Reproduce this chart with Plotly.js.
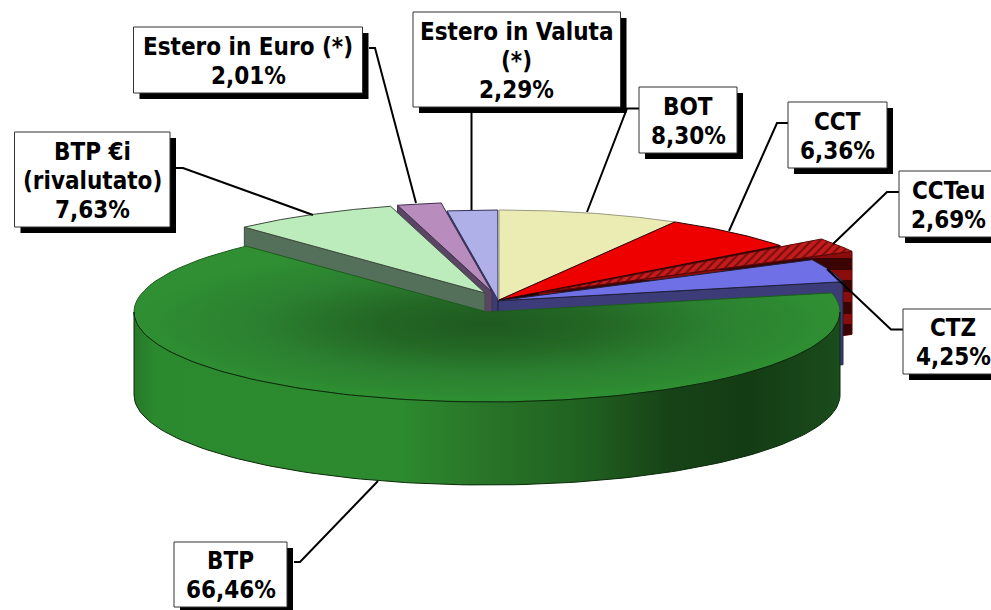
<!DOCTYPE html>
<html>
<head>
<meta charset="utf-8">
<script src="https://cdn.plot.ly/plotly-3.0.1.min.js"></script>
<style>html,body{margin:0;padding:0;background:#fff;overflow:hidden}#chart{width:991px;height:610px}</style>
</head>
<body>
<div id="chart"></div>
<script>
// ---- data ----
const categories = ["BOT","CCT","CCTeu","CTZ","BTP","BTP €i (rivalutato)","Estero in Euro (*)","Estero in Valuta (*)"];
const values = [8.30,6.36,2.69,4.25,66.46,7.63,2.01,2.29];
const valueLabels = ["8,30%","6,36%","2,69%","4,25%","66,46%","7,63%","2,01%","2,29%"];
const nameLines = [["BOT"],["CCT"],["CCTeu"],["CTZ"],["BTP"],["BTP €i","(rivalutato)"],["Estero in Euro (*)"],["Estero in Valuta","(*)"]];

// ---- styles ----
const topColors  = ["#ebebb4","#ee0000","#b81818","#7070e6","#2e8b2e","#bcecbc","#b88cbc","#b0b0e8"];
const wallColors = [null,"#200404","#5a0808","#3c3c78",null,"#55705a","#5a4664","#3c3c70"];
const edgeColors = ["#9a9a80","#300000","#5a0808","#20203a","#1b5c1c","#404a40","#40304a","#30305a"];

// ---- geometry of the projected pie ----
const rx = 353, ry = 90, depth = 83;
const apexX = [499,499,539,498,487,485,492,498];
const apexY = [300,300,293,300.8,312,293,292,300];
const wallAt = [null,"end","end","end",null,"start","start","start"];
const boxes = [[639,87,737,153],[788,102,887,168],[899,171,998,237],[903,309,1003,374],[174,542,287,607],[14.5,132,170,227],[133.5,27,362.5,93],[413,12,620.5,107]];
const leadersX = [[639,627,587],[788,777,729],[899,887,833],[903,891,827],[294,300,378],[175,183,313],[369,375,416],[471.5,471.5]];
const leadersY = [[108.5,108.5,212],[123,123,231],[192,192,244],[329.5,329.5,269],[562,562,481],[168,168,215],[48,48,203],[113,210]];
const paintOrder = [7,6,5,0,1,2,3,4];

const rad = d => d*Math.PI/180;
const cum = []; values.reduce((s,v,i)=>(cum[i]=s,s+v),0);
const startDeg = i => cum[i]*3.6, endDeg = i => (cum[i]+values[i])*3.6;
const px = (i,d) => apexX[i]+rx*Math.sin(rad(d));
const py = (i,d,off=0) => apexY[i]-ry*Math.cos(rad(d))+off;

function wedge(i){
  const X=[apexX[i]],Y=[apexY[i]];
  for(let k=0;k<=80;k++){const d=startDeg(i)+(endDeg(i)-startDeg(i))*k/80;X.push(px(i,d));Y.push(py(i,d));}
  X.push(apexX[i]);Y.push(apexY[i]);return [X,Y];
}
function cutWall(i){
  const d = wallAt[i]==="end"?endDeg(i):startDeg(i);
  return [[apexX[i],px(i,d),px(i,d),apexX[i],apexX[i]],[apexY[i],py(i,d),py(i,d,depth),apexY[i]+depth,apexY[i]]];
}
function rim(i){
  const X=[],Y=[];
  for(let k=0;k<=120;k++){const d=90+180*k/120;X.push(px(i,d));Y.push(py(i,d));}
  for(let k=120;k>=0;k--){const d=90+180*k/120;X.push(px(i,d));Y.push(py(i,d,depth));}
  X.push(X[0]);Y.push(Y[0]);return [X,Y];
}
const traces=[];
const poly=(xy,name,color,edge,extra)=>traces.push(Object.assign({type:"scatter",mode:"lines",x:xy[0],y:xy[1],name:name,fill:"toself",fillcolor:color,line:{color:edge,width:1},hoverinfo:"skip",showlegend:false},extra||{}));

const BTP=4, CCTEU=2;
paintOrder.forEach(i=>{
  if(i===BTP){
    poly(wedge(i),categories[i],topColors[i],edgeColors[i],{fillgradient:{type:"radial",colorscale:[[0,"#1e5a20"],[0.3,"#236624"],[0.65,"#2b8030"],[1,"#2f8f32"]]}});
    poly(rim(i),categories[i]+" lato","#2e8b2e","#0a2a0a",{fillgradient:{type:"horizontal",colorscale:[[0,"#267828"],[0.03,"#2c8a2e"],[0.38,"#2d8a2e"],[0.5,"#287428"],[0.64,"#206020"],[0.76,"#174217"],[0.87,"#143c14"],[1,"#1a4c1c"]]}});
    return;
  }
  if(wallAt[i]){
    const extra = i===CCTEU?{fillpattern:{shape:"-",bgcolor:"#3a0404",fgcolor:"#8a0c0c",size:22,solidity:0.45}}:{};
    poly(cutWall(i),categories[i]+" lato",wallColors[i],edgeColors[i],extra);
  }
  const extra = i===CCTEU?{fillpattern:{shape:"/",bgcolor:"#c41c1c",fgcolor:"#7a0c0c",size:6,solidity:0.35}}:{};
  poly(wedge(i),categories[i],topColors[i],edgeColors[i],extra);
});
leadersX.forEach((lx,i)=>traces.push({type:"scatter",mode:"lines",x:lx,y:leadersY[i],line:{color:"#000",width:2},hoverinfo:"skip",showlegend:false}));

const shapes=[],annotations=[];
const shadow=6, pitch=29, textDrop=1;
boxes.forEach((b,i)=>{
  shapes.push({type:"rect",xref:"x",yref:"y",x0:b[0]+shadow,y0:b[1]+shadow,x1:b[2]+shadow,y1:b[3]+shadow,fillcolor:"#000",line:{width:0},layer:"above"});
  shapes.push({type:"rect",xref:"x",yref:"y",x0:b[0],y0:b[1],x1:b[2],y1:b[3],fillcolor:"#fff",line:{color:"#333",width:1},layer:"above"});
  const lines=nameLines[i].concat([valueLabels[i]]);
  const cx=(b[0]+b[2])/2, cy=(b[1]+b[3])/2+textDrop;
  lines.forEach((t,k)=>annotations.push({xref:"x",yref:"y",x:cx,y:cy+(k-(lines.length-1)/2)*pitch,text:t,showarrow:false,xanchor:"center",yanchor:"middle",font:{family:"'DejaVu Sans Condensed','DejaVu Sans',sans-serif",size:24,color:"#000",weight:700}}));
});

Plotly.newPlot("chart",traces,{
  width:991,height:610,margin:{l:0,r:0,t:0,b:0},
  paper_bgcolor:"#fff",plot_bgcolor:"#fff",showlegend:false,
  xaxis:{range:[0,991],visible:false,fixedrange:true},
  yaxis:{range:[610,0],visible:false,fixedrange:true},
  shapes:shapes,annotations:annotations
},{displayModeBar:false,staticPlot:true});
</script>
</body>
</html>
